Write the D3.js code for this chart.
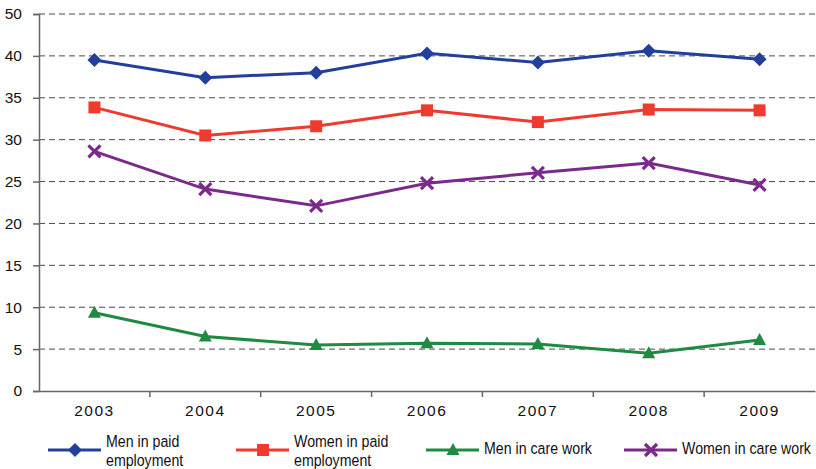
<!DOCTYPE html>
<html>
<head>
<meta charset="utf-8">
<script src="https://cdn.jsdelivr.net/npm/d3@7"></script>
<style>
  html, body { margin: 0; padding: 0; background: #fff; }
  svg { display: block; }
  .tick text { font-family: "Liberation Sans", Arial, sans-serif; }
  .legend text { font-family: "Liberation Sans", Arial, sans-serif; }
</style>
</head>
<body>
<svg id="chart" width="816" height="469"></svg>
<script>
// Years on the x axis
const years = ["2003", "2004", "2005", "2006", "2007", "2008", "2009"];

// Hours per week by group
const menPaid    = [39.5, 37.4, 38.0, 40.3, 39.2, 40.6, 39.6];
const womenPaid  = [33.85, 30.5, 31.6, 33.5, 32.1, 33.6, 33.5];
const menCare    = [9.35, 6.5, 5.5, 5.7, 5.6, 4.5, 6.1];
const womenCare  = [28.6, 24.1, 22.1, 24.8, 26.05, 27.2, 24.6];

// Y axis gridline positions and their printed labels
const yTickValues = [0, 5, 10, 15, 20, 25, 30, 35, 40, 45];
const yTickLabels = ["0", "5", "10", "15", "20", "25", "30", "35", "40", "50"];

const seriesNames = ["Men in paid employment", "Women in paid employment", "Men in care work", "Women in care work"];
const seriesValues = [menPaid, womenPaid, menCare, womenCare];
const seriesColors = ["#22409a", "#ef3a30", "#1f8a42", "#7b2a8b"];
const seriesMarkers = ["diamond", "square", "triangle", "cross"];

const svg = d3.select("#chart");
const margin = { left: 39, right: 1, top: 14, bottom: 78 };
const W = 816, H = 469;

const x = d3.scaleBand().domain(years).range([margin.left, W - margin.right]);
const y = d3.scaleLinear().domain([0, 45]).range([H - margin.bottom, margin.top]);
const cx = d => x(d) + x.bandwidth() / 2;

// Dashed horizontal gridlines
svg.append("g")
  .selectAll("line")
  .data(yTickValues.filter(v => v > 0))
  .join("line")
  .attr("x1", margin.left).attr("x2", W)
  .attr("y1", d => y(d)).attr("y2", d => y(d))
  .attr("stroke", "#4a4a4a")
  .attr("stroke-width", 1)
  .attr("stroke-dasharray", "6,4");

// Y axis
const yAxis = svg.append("g")
  .attr("transform", `translate(${margin.left},0)`)
  .call(d3.axisLeft(y).tickValues(yTickValues)
    .tickFormat((d, i) => yTickLabels[i]).tickSize(6).tickPadding(11));
yAxis.select(".domain").attr("stroke", "#666").attr("stroke-width", 1.5);
yAxis.selectAll(".tick line").attr("stroke", "#666").attr("stroke-width", 1.5);
yAxis.selectAll(".tick text").attr("font-size", 15.5).attr("fill", "#111");

// X axis with ticks at category boundaries
const xAxis = svg.append("g")
  .attr("transform", `translate(0,${y(0)})`)
  .call(d3.axisBottom(x).tickSize(0).tickPadding(14));
xAxis.select(".domain").attr("stroke", "#666").attr("stroke-width", 1.5);
xAxis.selectAll(".tick text").attr("font-size", 15.5).attr("fill", "#111")
  .attr("letter-spacing", "1.5px");
xAxis.append("g")
  .selectAll("line")
  .data(years.slice(1))
  .join("line")
  .attr("x1", d => x(d)).attr("x2", d => x(d))
  .attr("y1", 0).attr("y2", 6)
  .attr("stroke", "#666").attr("stroke-width", 1.5);

// Marker drawing
function drawMarker(g, type, color) {
  if (type === "diamond") {
    g.append("path").attr("d", "M0,-7L7,0L0,7L-7,0Z").attr("fill", color);
  } else if (type === "square") {
    g.append("rect").attr("x", -6).attr("y", -6).attr("width", 12).attr("height", 12).attr("fill", color);
  } else if (type === "triangle") {
    g.append("path").attr("d", "M0,-7L6.5,5L-6.5,5Z").attr("fill", color);
  } else {
    g.append("path").attr("d", "M-6,-6L6,6M-6,6L6,-6")
      .attr("stroke", color).attr("stroke-width", 3.2).attr("fill", "none");
  }
}

const line = d3.line().x((d, i) => cx(years[i])).y(d => y(d));

seriesValues.forEach((vals, s) => {
  const g = svg.append("g");
  g.append("path").datum(vals)
    .attr("d", line)
    .attr("fill", "none")
    .attr("stroke", seriesColors[s])
    .attr("stroke-width", 3);
  vals.forEach((v, i) => {
    const m = g.append("g").attr("transform", `translate(${cx(years[i])},${y(v)})`);
    drawMarker(m, seriesMarkers[s], seriesColors[s]);
  });
});

// Legend (condensed text via horizontal scaling)
const legendX = [48, 236, 426, 624];
const legendLines = [["Men in paid", "employment"], ["Women in paid", "employment"], ["Men in care work"], ["Women in care work"]];
const legend = svg.append("g").attr("class", "legend");
seriesNames.forEach((name, s) => {
  const g = legend.append("g").attr("transform", `translate(${legendX[s]},450)`);
  g.append("line").attr("x1", 0).attr("x2", 53).attr("y1", 0).attr("y2", 0)
    .attr("stroke", seriesColors[s]).attr("stroke-width", 3);
  const m = g.append("g").attr("transform", "translate(27,0)");
  drawMarker(m, seriesMarkers[s], seriesColors[s]);
  const t = g.append("text")
    .attr("transform", "translate(58,0) scale(0.86,1)")
    .attr("font-size", 16.5).attr("fill", "#111");
  const lines = legendLines[s];
  if (lines.length === 2) {
    t.append("tspan").attr("x", 0).attr("y", -3).text(lines[0]);
    t.append("tspan").attr("x", 0).attr("y", 16).text(lines[1]);
  } else {
    t.append("tspan").attr("x", 0).attr("y", 4).text(lines[0]);
  }
});
</script>
</body>
</html>
